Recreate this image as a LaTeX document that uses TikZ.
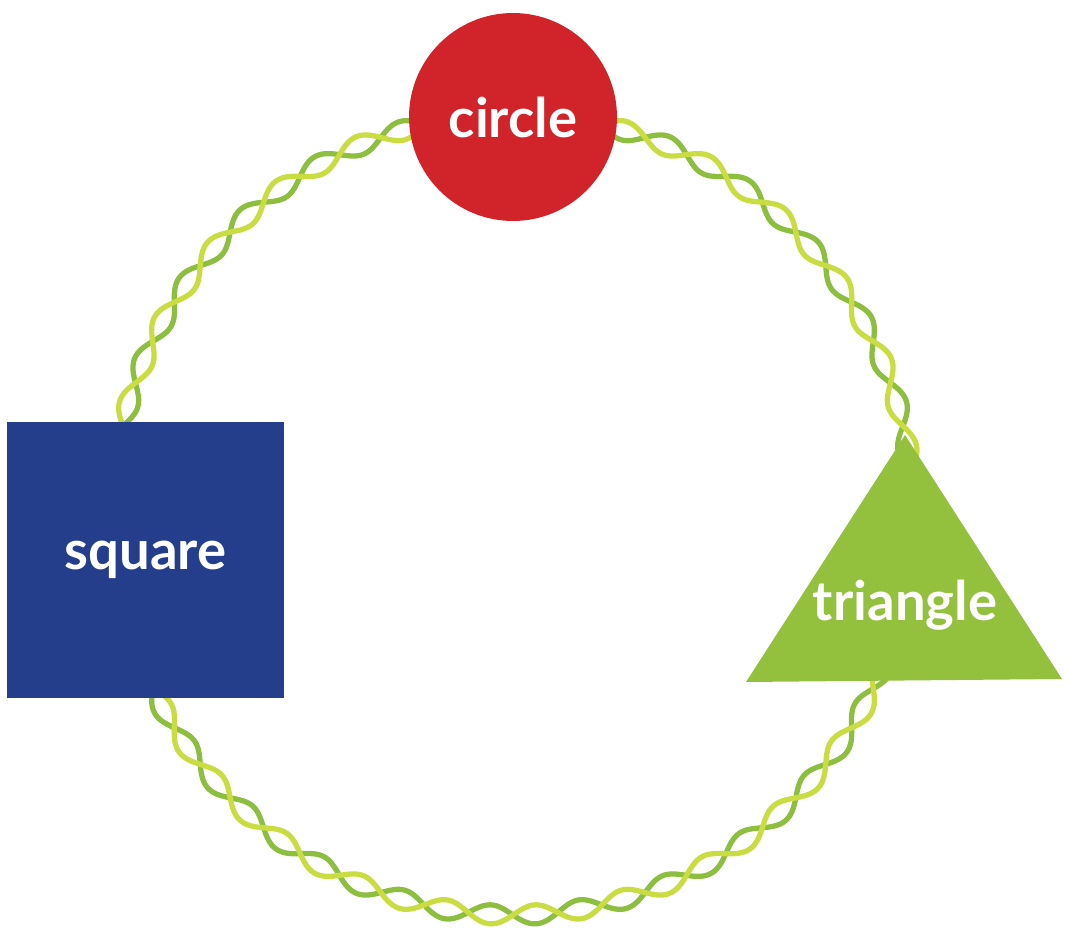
\documentclass[tikz,border=0pt]{standalone}
\usepackage{fontspec}
\setmainfont{Lato}
\definecolor{circred}{HTML}{D1232A}
\definecolor{sqblue}{HTML}{253E8C}
\definecolor{trigreen}{HTML}{94C13D}
\definecolor{strandlight}{HTML}{C9DD42}
\definecolor{stranddark}{HTML}{8DBE3F}

\begin{document}
\begin{tikzpicture}[x=0.02cm, y=0.02cm,
  strand/.style={line width=3pt, line cap=round},
  shapelabel/.style={text=white, font=\bfseries\fontsize{31}{33}\selectfont}]
  \useasboundingbox (0,0) rectangle (1065,931);
  \def\cx{513} \def\cy{416}   % ring centre
  \def\R{400}  \def\A{9.5}    % ring radius, twist amplitude
  \def\N{28}                  % twists round the ring

  % twisted ring: dark strand below, light strand on top
  \foreach \s/\col in {1/stranddark, -1/strandlight}
    \draw[strand, \col] plot[domain=0:360, samples=1200, smooth]
      ({\cx+(\R+\s*\A*sin(\N*\x))*cos(\x)}, {\cy+(\R+\s*\A*sin(\N*\x))*sin(\x)});

  % shapes on the ring
  \node[circle, fill=circred, minimum size=4.16cm, inner sep=0pt, shapelabel]
    (circ) at (513,814) {circle};
  \node[rectangle, fill=sqblue, minimum size=5.54cm, inner sep=0pt, shapelabel]
    (sq) at (145.5,371) {square};

  \coordinate (apex) at (905,496);
  \coordinate (bl) at (746,249);
  \coordinate (br) at (1062,252);
  \fill[trigreen] (apex) -- (bl) -- (br) -- cycle;
  \node[shapelabel] (tri) at (905,326) {triangle};
\end{tikzpicture}
\end{document}
